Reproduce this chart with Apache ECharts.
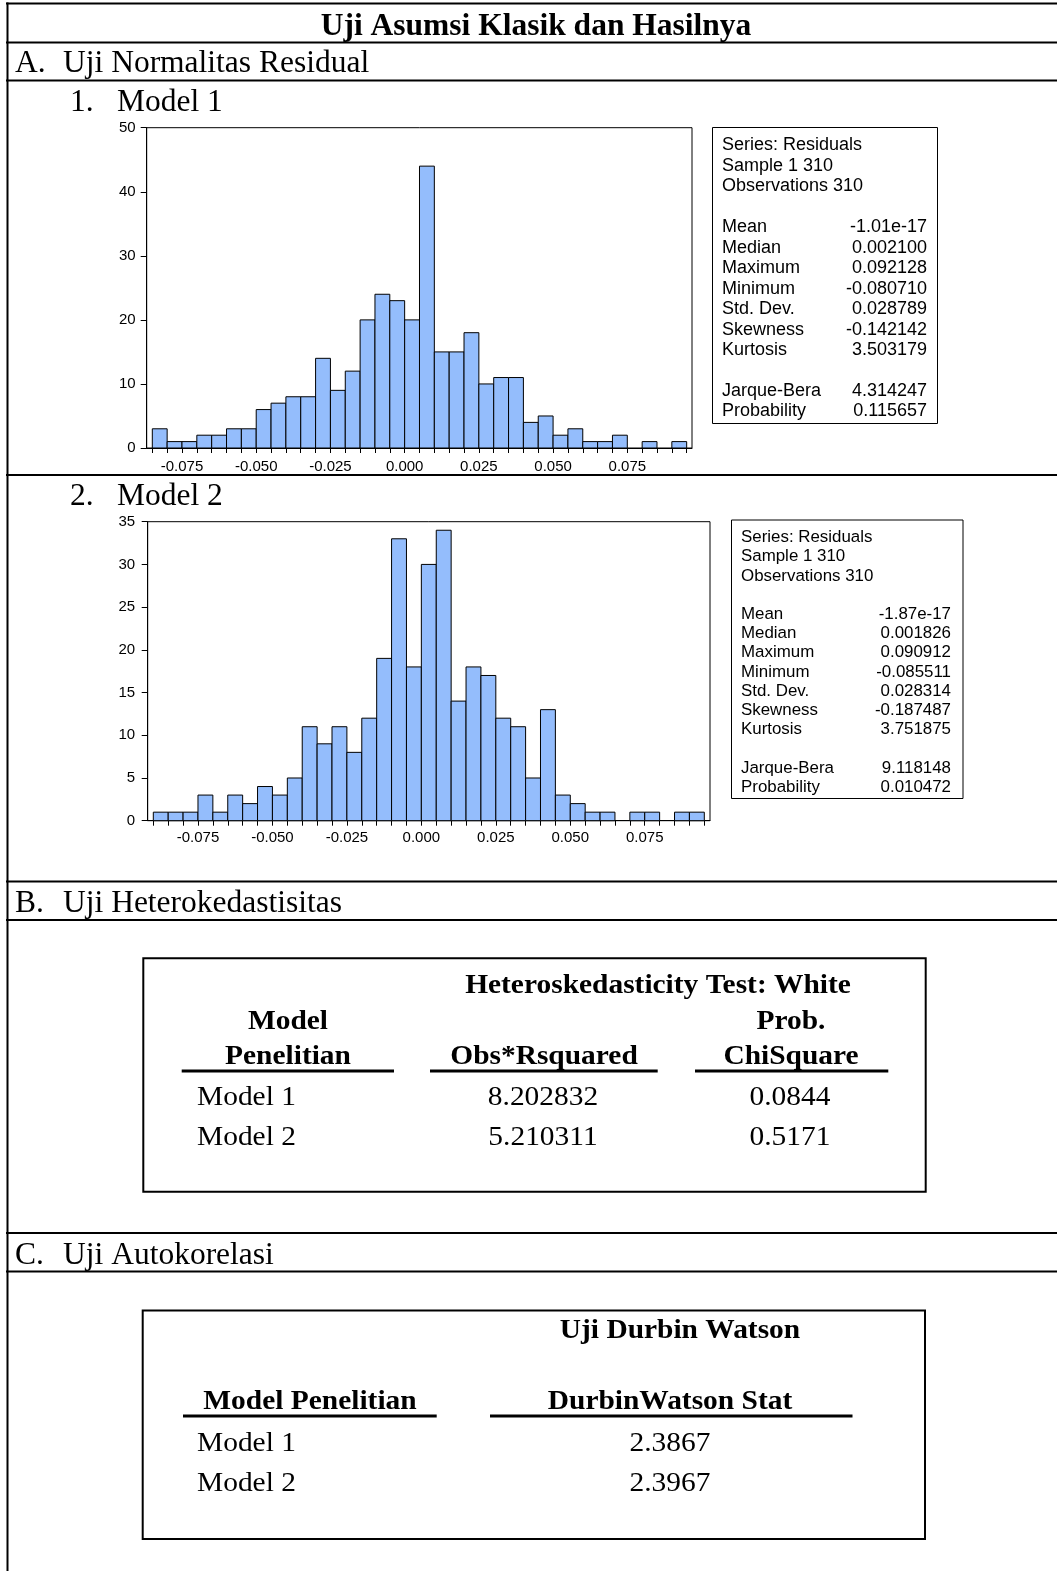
<!DOCTYPE html>
<html>
<head>
<meta charset="utf-8">
<script src="https://cdn.jsdelivr.net/npm/echarts@6/dist/echarts.min.js"></script>
<style>
html,body{margin:0;padding:0;background:#fff;}
#c{width:1057px;height:1571px;}
</style>
</head>
<body>
<div id="c"></div>
<script>
// ---------- DATA ----------
const binWidth = 0.005;
const model1Bins = [-0.085,-0.080,-0.075,-0.070,-0.065,-0.060,-0.055,-0.050,-0.045,-0.040,-0.035,-0.030,-0.025,-0.020,-0.015,-0.010,-0.005,0.000,0.005,0.010,0.015,0.020,0.025,0.030,0.035,0.040,0.045,0.050,0.055,0.060,0.065,0.070,0.075,0.080,0.085,0.090];
const model1Counts = [3,1,1,2,2,3,3,6,7,8,8,14,9,12,20,24,23,20,44,15,15,18,10,11,11,4,5,2,3,1,1,2,0,1,0,1];
const model2Bins = [-0.090,-0.085,-0.080,-0.075,-0.070,-0.065,-0.060,-0.055,-0.050,-0.045,-0.040,-0.035,-0.030,-0.025,-0.020,-0.015,-0.010,-0.005,0.000,0.005,0.010,0.015,0.020,0.025,0.030,0.035,0.040,0.045,0.050,0.055,0.060,0.065,0.070,0.075,0.080,0.085,0.090];
const model2Counts = [1,1,1,3,1,3,2,4,3,5,11,9,11,8,12,19,33,18,30,34,14,18,17,12,11,5,13,3,2,1,1,0,1,1,0,1,1];

const model1TickValues = [-0.085,-0.080,-0.075,-0.070,-0.065,-0.060,-0.055,-0.050,-0.045,-0.040,-0.035,-0.030,-0.025,-0.020,-0.015,-0.010,-0.005,0.000,0.005,0.010,0.015,0.020,0.025,0.030,0.035,0.040,0.045,0.050,0.055,0.060,0.065,0.070,0.075,0.080,0.085,0.090,0.095];
const model2TickValues = [-0.090,-0.085,-0.080,-0.075,-0.070,-0.065,-0.060,-0.055,-0.050,-0.045,-0.040,-0.035,-0.030,-0.025,-0.020,-0.015,-0.010,-0.005,0.000,0.005,0.010,0.015,0.020,0.025,0.030,0.035,0.040,0.045,0.050,0.055,0.060,0.065,0.070,0.075,0.080,0.085,0.090,0.095];
const xLabelValues = [-0.075,-0.050,-0.025,0.000,0.025,0.050,0.075];

const statHeader = ['Series: Residuals','Sample 1 310','Observations 310'];
const statNames = ['Mean','Median','Maximum','Minimum','Std. Dev.','Skewness','Kurtosis'];
const testNames = ['Jarque-Bera','Probability'];
const model1Stats = ['-1.01e-17','0.002100','0.092128','-0.080710','0.028789','-0.142142','3.503179'];
const model1Tests = ['4.314247','0.115657'];
const model2Stats = ['-1.87e-17','0.001826','0.090912','-0.085511','0.028314','-0.187487','3.751875'];
const model2Tests = ['9.118148','0.010472'];

const tableModels = ['Model 1','Model 2'];
const heteroObsR2 = ['8.202832','5.210311'];
const heteroProb = ['0.0844','0.5171'];
const dwStat = ['2.3867','2.3967'];

// ---------- HELPERS ----------
const SERIF = '"Liberation Serif","Times New Roman",serif';
const SANS = '"Liberation Sans",Arial,sans-serif';
function txt(x, y, text, opt) {
  opt = opt || {};
  const align = opt.align || 'left';
  return {
    type: 'text', x: x, y: y, scaleX: opt.scaleX || 1, z: 10,
    style: {
      text: text, fill: '#000',
      fontFamily: opt.family || SERIF,
      fontSize: opt.size || 31,
      fontWeight: opt.bold ? 'bold' : 'normal',
      align: align, verticalAlign: 'middle',
      textAlign: align, textVerticalAlign: 'middle'
    }
  };
}
function hline(x1, x2, y, w) {
  return {type: 'line', z: 10, shape: {x1: x1, y1: y, x2: x2, y2: y}, style: {stroke: '#000', lineWidth: w || 2}};
}
function vline(x, y1, y2, w) {
  return {type: 'line', z: 10, shape: {x1: x, y1: y1, x2: x, y2: y2}, style: {stroke: '#000', lineWidth: w || 2}};
}
function box(x, y, w, h, lw) {
  return {type: 'rect', z: 10, shape: {x: x, y: y, width: w, height: h}, style: {fill: 'none', stroke: '#000', lineWidth: lw || 1}};
}

const graphics = [];
// document frame lines
graphics.push(hline(6, 1057, 3.5));
graphics.push(hline(6, 1057, 42.5));
graphics.push(hline(6, 1057, 80.5));
graphics.push(hline(6, 1057, 475));
graphics.push(hline(6, 1057, 881.5));
graphics.push(hline(6, 1057, 920));
graphics.push(hline(6, 1057, 1233));
graphics.push(hline(6, 1057, 1271.5));
graphics.push(vline(7.5, 2.5, 1571));

// headings
const HS = 31.5, DY = 2.5;
graphics.push(txt(536, 24 + DY, 'Uji Asumsi Klasik dan Hasilnya', {bold: true, align: 'center', size: HS}));
graphics.push(txt(15, 61.5 + DY, 'A.', {size: HS}));
graphics.push(txt(63, 61.5 + DY, 'Uji Normalitas Residual', {size: HS}));
graphics.push(txt(70, 100.5 + DY, '1.', {size: HS}));
graphics.push(txt(117, 100.5 + DY, 'Model 1', {size: HS}));
graphics.push(txt(70, 494 + DY, '2.', {size: HS}));
graphics.push(txt(117, 494 + DY, 'Model 2', {size: HS}));
graphics.push(txt(15, 901 + DY, 'B.', {size: HS}));
graphics.push(txt(63, 901 + DY, 'Uji Heterokedastisitas', {size: HS}));
graphics.push(txt(15, 1253 + DY, 'C.', {size: HS}));
graphics.push(txt(63, 1253 + DY, 'Uji Autokorelasi', {size: HS}));

// stats boxes
function statBox(x, y, w, h, lx, vx, y0, step, size, stats, tests) {
  graphics.push(box(x, y, w, h, 1));
  statHeader.forEach((s, i) => graphics.push(txt(lx, y0 + i * step, s, {family: SANS, size: size})));
  statNames.forEach((s, i) => {
    graphics.push(txt(lx, y0 + (i + 4) * step, s, {family: SANS, size: size}));
    graphics.push(txt(vx, y0 + (i + 4) * step, stats[i], {family: SANS, size: size, align: 'right'}));
  });
  testNames.forEach((s, i) => {
    graphics.push(txt(lx, y0 + (i + 12) * step, s, {family: SANS, size: size}));
    graphics.push(txt(vx, y0 + (i + 12) * step, tests[i], {family: SANS, size: size, align: 'right'}));
  });
}
statBox(712.5, 127.5, 225, 296, 722, 927, 145.5, 20.45, 18, model1Stats, model1Tests);
statBox(731.5, 520, 231.5, 278.5, 741, 951, 537.5, 19.2, 16.9, model2Stats, model2Tests);

// Table B
const TB = 27.5, SX = 1.07;
graphics.push(box(143.3, 958.3, 782.4, 233.4, 2));
graphics.push(txt(658, 983 + DY, 'Heteroskedasticity Test: White', {bold: true, align: 'center', size: TB, scaleX: SX}));
graphics.push(txt(288, 1019 + DY, 'Model', {bold: true, align: 'center', size: TB, scaleX: SX}));
graphics.push(txt(288, 1054 + DY, 'Penelitian', {bold: true, align: 'center', size: TB, scaleX: SX}));
graphics.push(txt(544, 1054 + DY, 'Obs*Rsquared', {bold: true, align: 'center', size: TB, scaleX: SX}));
graphics.push(txt(791, 1019 + DY, 'Prob.', {bold: true, align: 'center', size: TB, scaleX: SX}));
graphics.push(txt(791, 1054 + DY, 'ChiSquare', {bold: true, align: 'center', size: TB, scaleX: SX}));
graphics.push(hline(181.7, 394, 1071, 3));
graphics.push(hline(430, 657.7, 1071, 3));
graphics.push(hline(695, 888.3, 1071, 3));
tableModels.forEach((m, i) => {
  const y = 1095.5 + DY + i * 40;
  graphics.push(txt(197, y, m, {size: TB, scaleX: SX}));
  graphics.push(txt(543, y, heteroObsR2[i], {size: TB, align: 'center', scaleX: SX}));
  graphics.push(txt(790, y, heteroProb[i], {size: TB, align: 'center', scaleX: SX}));
});

// Table C
graphics.push(box(142.7, 1310.5, 782.3, 228.5, 2));
graphics.push(txt(680, 1328.5 + DY, 'Uji Durbin Watson', {bold: true, align: 'center', size: TB, scaleX: SX}));
graphics.push(txt(310, 1399 + DY, 'Model Penelitian', {bold: true, align: 'center', size: TB, scaleX: SX}));
graphics.push(txt(670, 1399 + DY, 'DurbinWatson Stat', {bold: true, align: 'center', size: TB, scaleX: SX}));
graphics.push(hline(183, 436.7, 1416, 3));
graphics.push(hline(490, 852.5, 1416, 3));
tableModels.forEach((m, i) => {
  const y = 1441.5 + DY + i * 40;
  graphics.push(txt(197, y, m, {size: TB, scaleX: SX}));
  graphics.push(txt(670, y, dwStat[i], {size: TB, align: 'center', scaleX: SX}));
});

// ---------- CHARTS ----------
function renderBin(params, api) {
  const x0 = api.value(0), c = api.value(1);
  if (!c) return null;
  const p0 = api.coord([x0, c]);
  const p1 = api.coord([x0 + binWidth, 0]);
  return {
    type: 'rect',
    shape: {x: p0[0], y: p0[1], width: p1[0] - p0[0], height: p1[1] - p0[1]},
    style: {fill: '#94bdfc', stroke: '#000', lineWidth: 1}
  };
}
function fmt(v) { const s = Number(v).toFixed(3); return s === '-0.000' ? '0.000' : s; }
function xAxisDef(gi, min, max, ticks, margin) {
  return {
    type: 'value', gridIndex: gi, min: min, max: max,
    axisLine: {show: true, onZero: false, lineStyle: {color: '#000', width: 1}},
    axisTick: {show: true, length: 5, inside: false, customValues: ticks, lineStyle: {color: '#000', width: 1}},
    axisLabel: {show: true, customValues: xLabelValues, margin: margin, formatter: fmt, color: '#000', fontSize: 15, fontFamily: SANS},
    splitLine: {show: false}
  };
}
function yAxisDef(gi, max, interval, margin) {
  return {
    type: 'value', gridIndex: gi, min: 0, max: max, interval: interval,
    axisLine: {show: true, onZero: false, lineStyle: {color: '#000', width: 1}},
    axisTick: {show: true, length: 6, inside: false, lineStyle: {color: '#000', width: 1}},
    axisLabel: {show: true, margin: margin, color: '#000', fontSize: 15, fontFamily: SANS},
    splitLine: {show: false}
  };
}

const option = {
  backgroundColor: '#fff',
  animation: false,
  grid: [
    {left: 146.7, top: 127.7, width: 545.3, height: 320.3, show: true, borderColor: '#000', borderWidth: 1, backgroundColor: 'transparent', containLabel: false},
    {left: 147.7, top: 521.7, width: 562.3, height: 299, show: true, borderColor: '#000', borderWidth: 1, backgroundColor: 'transparent', containLabel: false}
  ],
  xAxis: [
    xAxisDef(0, -0.08689, 0.09679, model1TickValues, 11),
    xAxisDef(1, -0.09188, 0.09691, model2TickValues, 10)
  ],
  yAxis: [
    yAxisDef(0, 50, 10, 11),
    yAxisDef(1, 35, 5, 12.5)
  ],
  series: [
    {type: 'custom', xAxisIndex: 0, yAxisIndex: 0, renderItem: renderBin,
     encode: {x: 0, y: 1}, data: model1Bins.map((b, i) => [b, model1Counts[i]])},
    {type: 'custom', xAxisIndex: 1, yAxisIndex: 1, renderItem: renderBin,
     encode: {x: 0, y: 1}, data: model2Bins.map((b, i) => [b, model2Counts[i]])}
  ],
  graphic: {elements: graphics}
};

const chart = echarts.init(document.getElementById('c'), null, {renderer: 'canvas'});
chart.setOption(option);
</script>
</body>
</html>
